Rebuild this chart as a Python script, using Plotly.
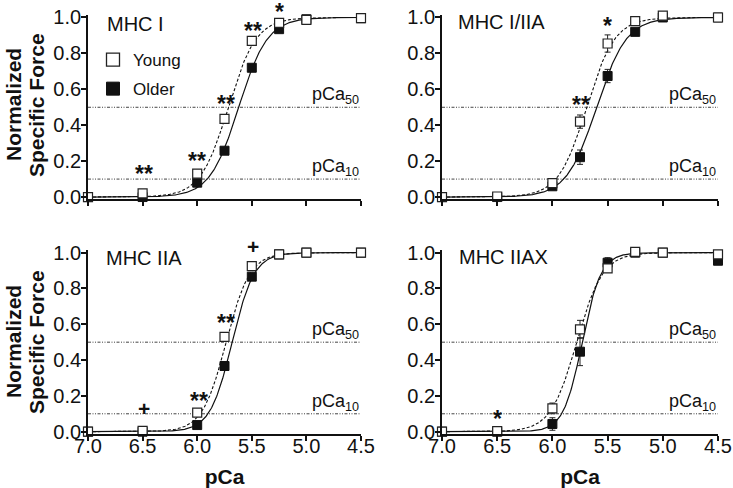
import numpy as np
import plotly.graph_objects as go
from plotly.subplots import make_subplots

# ---------------- data ----------------
pca = [7.0, 6.5, 6.0, 5.75, 5.5, 5.25, 5.0, 4.5]
tick_vals = [7.0, 6.5, 6.0, 5.5, 5.0, 4.5]
tick_text = ["7.0", "6.5", "6.0", "5.5", "5.0", "4.5"]
ytick_vals = [0.0, 0.2, 0.4, 0.6, 0.8, 1.0]
ytick_text = ["0.0", "0.2", "0.4", "0.6", "0.8", "1.0"]

panels = ["MHC I", "MHC I/IIA", "MHC IIA", "MHC IIAX"]

young_I = [0.0, 0.02, 0.13, 0.435, 0.87, 0.97, 0.987, 0.996]
older_I = [0.0, 0.0, 0.08, 0.258, 0.72, 0.935, 0.99, 0.996]
young_I_err = [0, 0, 0.01, 0.01, 0.01, 0.01, 0, 0]
older_I_err = [0, 0, 0.01, 0.01, 0.01, 0.01, 0, 0]

young_IIIA = [0.0, 0.003, 0.078, 0.42, 0.855, 0.98, 1.01, 1.0]
older_IIIA = [0.0, 0.0, 0.06, 0.222, 0.674, 0.92, 1.0, 1.0]
young_IIIA_err = [0, 0.01, 0.02, 0.037, 0.048, 0.02, 0.005, 0]
older_IIIA_err = [0, 0, 0.01, 0.04, 0.037, 0.015, 0, 0]

young_IIA = [0.0, 0.004, 0.106, 0.53, 0.925, 0.99, 1.0, 1.0]
older_IIA = [0.0, 0.0, 0.037, 0.367, 0.866, 0.99, 1.0, 1.0]
young_IIA_err = [0, 0, 0.01, 0.02, 0.01, 0.005, 0, 0]
older_IIA_err = [0, 0, 0.01, 0.02, 0.01, 0.005, 0, 0]

young_IIAX = [0.0, 0.003, 0.13, 0.572, 0.912, 1.005, 1.0, 0.99]
older_IIAX = [0.0, 0.0, 0.043, 0.447, 0.944, 1.0, 1.0, 0.955]
young_IIAX_err = [0, 0, 0.03, 0.05, 0.02, 0.01, 0.005, 0.01]
older_IIAX_err = [0, 0, 0.035, 0.078, 0.028, 0.01, 0.005, 0.01]

young_vals = [young_I, young_IIIA, young_IIA, young_IIAX]
older_vals = [older_I, older_IIIA, older_IIA, older_IIAX]
young_errs = [young_I_err, young_IIIA_err, young_IIA_err, young_IIAX_err]
older_errs = [older_I_err, older_IIIA_err, older_IIA_err, older_IIAX_err]

# Hill fit parameters (pCa50, Hill coefficient)
young_pca50 = [5.715, 5.69, 5.735, 5.78]
young_nh = [3.4, 3.4, 4.0, 3.7]
older_pca50 = [5.62, 5.60, 5.68, 5.73]
older_nh = [3.3, 3.2, 4.3, 5.1]

ref_levels = [0.5, 0.1]
ref_labels = ["pCa<sub>50</sub>", "pCa<sub>10</sub>"]

# significance marks: (text, pCa, y)
sig_marks = [
    [("**", 6.49, 0.16), ("**", 6.0, 0.235), ("**", 5.74, 0.553), ("**", 5.49, 0.96), ("*", 5.25, 1.063)],
    [("**", 5.74, 0.544), ("*", 5.5, 0.986)],
    [("+", 6.49, 0.127), ("**", 5.98, 0.205), ("**", 5.74, 0.642), ("+", 5.49, 1.037)],
    [("*", 6.5, 0.106)],
]
label_pos = [(6.84, 0.964), (6.873, 0.976), (6.855, 0.969), (6.86, 0.977)]

FONT = "Liberation Sans, Arial, sans-serif"
W, H = 733, 488
XR = [7.0, 4.5]
YR = [-0.012, 1.015]

fig = make_subplots(rows=2, cols=2)

xdoms = [[88 / W, 361 / W], [442 / W, 718 / W]]
ydoms = [[0.5918, 0.9697], [0.1110, 0.4877]]

curve_x = np.linspace(7.0, 4.5, 400)


def hill(x, p50, n):
    return 1.0 / (1.0 + 10 ** (n * (np.asarray(x) - p50)))


def dx(v):
    return (v - XR[0]) / (XR[1] - XR[0])


def dy(v):
    return (v - YR[0]) / (YR[1] - YR[0])


for i in range(4):
    r, c = i // 2 + 1, i % 2 + 1
    # reference lines
    for lev in ref_levels:
        fig.add_trace(go.Scatter(x=XR, y=[lev, lev], mode="lines",
                                 line=dict(color="#444", width=1, dash="3px,1.5px,1px,1.5px,1px,1.5px"),
                                 showlegend=False, hoverinfo="skip"), row=r, col=c)
    # fits
    fig.add_trace(go.Scatter(x=curve_x, y=hill(curve_x, older_pca50[i], older_nh[i]), mode="lines",
                             line=dict(color="#111", width=1.2), showlegend=False, hoverinfo="skip"),
                  row=r, col=c)
    fig.add_trace(go.Scatter(x=curve_x, y=hill(curve_x, young_pca50[i], young_nh[i]), mode="lines",
                             line=dict(color="#111", width=1.1, dash="3px,2px"), showlegend=False,
                             hoverinfo="skip"), row=r, col=c)
    # data
    fig.add_trace(go.Scatter(x=pca, y=older_vals[i], mode="markers",
                             marker=dict(symbol="square", size=9, color="#111",
                                         line=dict(color="#111", width=1)),
                             error_y=dict(type="data", array=older_errs[i], color="#222",
                                          thickness=1, width=3),
                             cliponaxis=False, showlegend=False, name="Older"), row=r, col=c)
    fig.add_trace(go.Scatter(x=pca, y=young_vals[i], mode="markers",
                             marker=dict(symbol="square", size=9, color="white",
                                         line=dict(color="#222", width=1.2)),
                             error_y=dict(type="data", array=young_errs[i], color="#222",
                                          thickness=1, width=3),
                             cliponaxis=False, showlegend=False, name="Young"), row=r, col=c)

    xa = "x" if i == 0 else f"x{i + 1}"
    ya = "y" if i == 0 else f"y{i + 1}"
    xd = xa + " domain"
    yd = ya + " domain"
    for lev, lab in zip(ref_levels, ref_labels):
        fig.add_annotation(x=1.0, y=dy(lev), xref=xd, yref=yd, text=lab, showarrow=False,
                           xanchor="right", yanchor="bottom", yshift=-2,
                           font=dict(family=FONT, size=18, color="#111"))
    for txt, xv, yv in sig_marks[i]:
        star = "*" in txt
        fig.add_annotation(x=dx(xv), y=dy(yv), xref=xd, yref=yd, text=f"<b>{txt}</b>", showarrow=False,
                           xanchor="center", yanchor="middle", yshift=-6 if star else 0,
                           font=dict(family=FONT, size=23 if star else 21, color="#111"))
    lx, ly = label_pos[i]
    fig.add_annotation(x=dx(lx), y=dy(ly), xref=xd, yref=yd, text=panels[i], showarrow=False,
                       xanchor="left", yanchor="middle",
                       font=dict(family=FONT, size=20, color="#111"))

    fig.update_xaxes(row=r, col=c, domain=xdoms[c - 1], range=XR, automargin=False,
                     tickvals=tick_vals, ticktext=tick_text, showticklabels=(r == 2),
                     ticks="outside", ticklen=5, tickwidth=1.5, tickcolor="#111",
                     ticklabelstandoff=-12,
                     showline=True, linecolor="#111", linewidth=1.8, showgrid=False,
                     zeroline=False, tickfont=dict(family=FONT, size=20, color="#111"))
    fig.update_yaxes(row=r, col=c, domain=ydoms[r - 1], range=YR, automargin=False,
                     tickvals=ytick_vals, ticktext=ytick_text,
                     ticks="outside", ticklen=5, tickwidth=1.5, tickcolor="#111",
                     ticklabelstandoff=-4,
                     showline=True, linecolor="#111", linewidth=1.8, showgrid=False,
                     zeroline=False, tickfont=dict(family=FONT, size=20, color="#111"))
    if r == 2:
        fig.update_xaxes(row=r, col=c, title=dict(text="<b>pCa</b>", standoff=14,
                                                  font=dict(family=FONT, size=21, color="#111")))

# y-axis titles
for yc in [105, 342]:
    fig.add_annotation(x=13 / W, y=1 - yc / H, xref="paper", yref="paper", text="<b>Normalized</b>",
                       textangle=-90, showarrow=False, xanchor="center", yanchor="middle",
                       font=dict(family=FONT, size=21, color="#111"))
    fig.add_annotation(x=36 / W, y=1 - yc / H, xref="paper", yref="paper", text="<b>Specific Force</b>",
                       textangle=-90, showarrow=False, xanchor="center", yanchor="middle",
                       font=dict(family=FONT, size=21, color="#111"))

# legend entries
fig.add_trace(go.Scatter(x=[None], y=[None], mode="markers", name="Young", legendgroup="young",
                         marker=dict(symbol="square", size=13, color="white",
                                     line=dict(color="#222", width=1.3))), row=1, col=1)
fig.add_trace(go.Scatter(x=[None], y=[None], mode="markers", name="Older", legendgroup="older",
                         marker=dict(symbol="square", size=13, color="#111",
                                     line=dict(color="#111", width=1))), row=1, col=1)

fig.update_layout(
    width=W, height=H, margin=dict(l=0, r=0, t=0, b=0),
    paper_bgcolor="white", plot_bgcolor="white",
    font=dict(family=FONT, color="#111"),
    legend=dict(x=93 / W, y=1 - 42 / H, xanchor="left", yanchor="top",
                bgcolor="rgba(0,0,0,0)", font=dict(family=FONT, size=17, color="#111"),
                itemwidth=30, tracegroupgap=4),
)

fig.write_html("out.html", config={"displayModeBar": False},
               post_script="document.body.style.margin='0px';")
